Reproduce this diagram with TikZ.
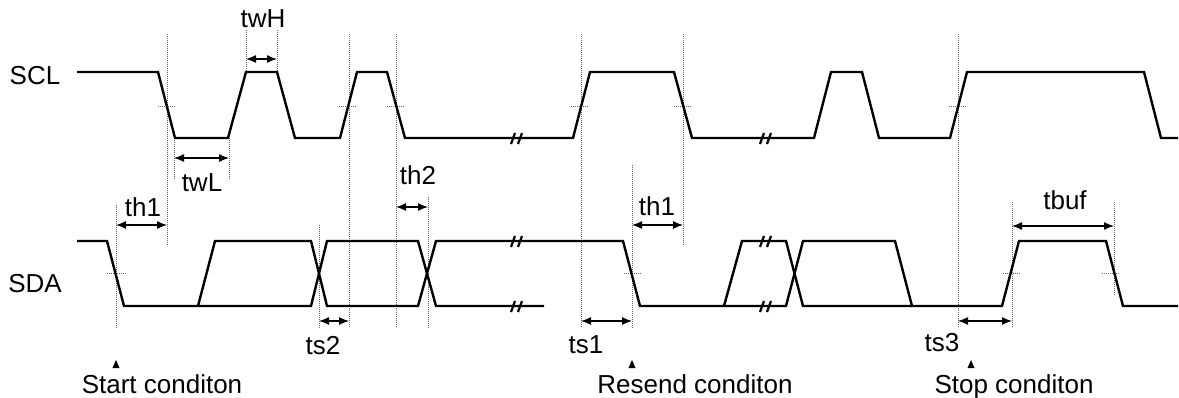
\documentclass[tikz,border=0pt]{standalone}
\usepackage{fontspec}
\setmainfont{Liberation Sans}
\usetikzlibrary{arrows.meta}
\begin{document}
\begin{tikzpicture}[x=1pt,y=-1pt,
  sig/.style={line width=2.4pt,line join=miter,line cap=butt},
  guide/.style={black!60,line width=1pt,dash pattern=on 1pt off 1pt},
  cross/.style={black!60,line width=1pt,dash pattern=on 1pt off 1pt},
  dim/.style={line width=1.3pt,{Latex[length=10pt,width=8pt]}-{Latex[length=10pt,width=8pt]}},
  brk/.style={line width=2.2pt},
  lbl/.style={anchor=base,inner sep=0pt,font=\fontsize{26}{30}\selectfont},
  mark/.style={fill=black}
]
\useasboundingbox (0,0) rectangle (1179,398);
% names
\node[lbl] (scl) at (35,85) {SCL};
\node[lbl] (sda) at (35,293) {SDA};
% guides
\foreach \x/\a/\b in {116/205/329,167/34/245,174/138/180,229/138/180,246/30/72,277/30/72,
  319/225/328,349/34/328,396/34/328,428/197/328,581/34/328,632/165/328,683/34/245,
  958/34/328,1012/202/328,1114/202/295}
  \draw[guide] (\x,\a) -- (\x,\b);
% crosshairs
\foreach \a/\b in {158/175,339/357,387/405,571/589,674/692,949/967}
  \draw[cross] (\a,107) -- (\b,107);
\foreach \a/\b in {107/126,624/641,1003/1021,1102/1120}
  \draw[cross] (\a,274) -- (\b,274);
% SCL
\draw[sig] (77,72) -- (158,72) -- (175,138) -- (228,138) -- (246,72) -- (277,72) -- (295,138)
  -- (340,138) -- (357,72) -- (387,72) -- (405,138) -- (573,138) -- (590,72) -- (674,72)
  -- (692,138) -- (814,138) -- (831,72) -- (862,72) -- (879,138) -- (950,138) -- (967,72)
  -- (1144,72) -- (1161,138) -- (1178,138);
% SDA
\draw[sig] (77,241) -- (107,241) -- (124,306) -- (311,306) -- (327,241) -- (418,241)
  -- (436,306) -- (544,306);
\draw[sig] (198,306) -- (215,241) -- (311,241) -- (327,306) -- (418,306) -- (436,241)
  -- (623,241) -- (640,306) -- (786,306) -- (803,241) -- (895,241) -- (912,306)
  -- (1002,306) -- (1019,241) -- (1106,241) -- (1123,306) -- (1178,306);
\draw[sig] (724,306) -- (742,241) -- (786,241) -- (803,306) -- (912,306);
% breaks
\foreach \x/\y in {517/138,766/138,517/241,517/306,766/241,766/306} {
  \draw[brk] (\x-6,\y+6) -- (\x-2,\y-5);
  \draw[brk] (\x+1,\y+6) -- (\x+5,\y-5);
}
% dimension arrows
\coordinate (twLa) at (174,158); \coordinate (twLb) at (229,158);
\draw[dim] (twLa) -- (twLb);
\coordinate (twHa) at (246,59); \coordinate (twHb) at (277,59);
\draw[dim] (twHa) -- (twHb);
\coordinate (tha) at (116,225); \coordinate (thb) at (167,225);
\draw[dim] (tha) -- (thb);
\coordinate (thc) at (396,207); \coordinate (thd) at (428,207);
\draw[dim] (thc) -- (thd);
\coordinate (tsa) at (319,321); \coordinate (tsb) at (349,321);
\draw[dim] (tsa) -- (tsb);
\coordinate (tsc) at (581,321); \coordinate (tsd) at (632,321);
\draw[dim] (tsc) -- (tsd);
\coordinate (the) at (632,225); \coordinate (thf) at (683,225);
\draw[dim] (the) -- (thf);
\coordinate (tse) at (958,321); \coordinate (tsf) at (1012,321);
\draw[dim] (tse) -- (tsf);
\coordinate (tba) at (1012,226); \coordinate (tbb) at (1114,226);
\draw[dim] (tba) -- (tbb);
% labels
\node[lbl] (ltwL) at (202,192) {twL};
\node[lbl] (ltwH) at (263,28) {twH};
\node[lbl] (lth1) at (143,217) {th1};
\node[lbl] (lth2) at (418,185) {th2};
\node[lbl] (lts2) at (323,355) {ts2};
\node[lbl] (lts1) at (586,353) {ts1};
\node[lbl] (lth1b) at (657,216) {th1};
\node[lbl] (lts3) at (942,352) {ts3};
\node[lbl] (ltbuf) at (1065,210) {tbuf};
% condition markers
\foreach \x in {116,632,971}
  \fill (\x,360) -- (\x+3.5,368) -- (\x-3.5,368) -- cycle;
\node[lbl] (start) at (162,393) {Start conditon};
\node[lbl] (resend) at (695,393) {Resend conditon};
\node[lbl] (stop) at (1014,393) {Stop conditon};
\end{tikzpicture}
\end{document}
